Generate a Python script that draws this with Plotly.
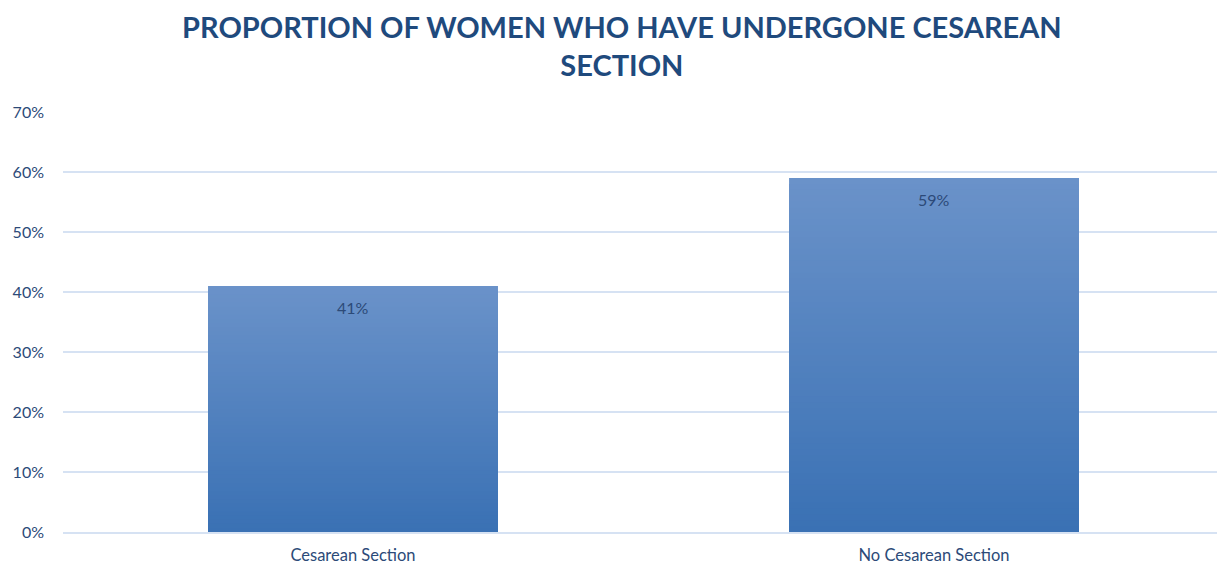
import plotly.graph_objects as go

categories = ["Cesarean Section", "No Cesarean Section"]
values = [0.41, 0.59]
label_texts = ["41%", "59%"]
y_ticks = [0, 0.1, 0.2, 0.3, 0.4, 0.5, 0.6, 0.7]
y_tick_labels = ["0%", "10%", "20%", "30%", "40%", "50%", "60%", "70%"]
title_text = "PROPORTION OF WOMEN WHO HAVE UNDERGONE CESAREAN<br>SECTION"

positions = list(range(len(categories)))

top_rgb = (106, 146, 201)
bot_rgb = (58, 113, 180)
N = 60

fig = go.Figure()
for i in range(N):
    f = (N - i) / N
    t = i / (N - 1)
    c = tuple(round(top_rgb[k] + (bot_rgb[k] - top_rgb[k]) * t) for k in range(3))
    fig.add_trace(go.Bar(
        x=positions, y=[v * f for v in values], width=0.499,
        marker=dict(color="rgb(%d,%d,%d)" % c, line=dict(width=0)),
        hoverinfo="skip", showlegend=False,
    ))

for p, v, txt in zip(positions, values, label_texts):
    fig.add_annotation(x=p, y=v, text=txt, showarrow=False, yshift=-21,
                       font=dict(family="Lato, Open Sans, sans-serif", size=16, color="#2C4A78"))

fig.update_layout(
    width=1217, height=566,
    barmode="overlay",
    paper_bgcolor="white", plot_bgcolor="white",
    margin=dict(l=63, r=0, t=112, b=34, autoexpand=False),
    title=dict(text="<b>" + title_text + "</b>", x=0.511, xanchor="center",
               yref="container", y=0.932, yanchor="top",
               font=dict(family="Lato, Open Sans, sans-serif", size=29, color="#1F4A7D")),
    font=dict(family="Lato, Open Sans, sans-serif", color="#2C4A78"),
    yaxis=dict(range=[0, 0.7], tickvals=y_ticks, ticktext=y_tick_labels,
               showgrid=True, gridcolor="#D6E2F3", gridwidth=2, zeroline=False,
               showline=False, ticks="", ticklabelstandoff=18, automargin=False,
               tickfont=dict(size=16, color="#2C4A78")),
    xaxis=dict(range=[-0.4991, 1.487], tickvals=positions, ticktext=categories,
               showgrid=False, zeroline=False, automargin=False,
               showline=True, linecolor="#D6E2F3", linewidth=2, ticks="",
               ticklabelstandoff=7,
               tickfont=dict(size=16.5, color="#2C4A78")),
)

fig.write_html("out.html", config={"displayModeBar": False},
               post_script="document.body.style.margin='0';document.body.style.overflow='hidden';")
